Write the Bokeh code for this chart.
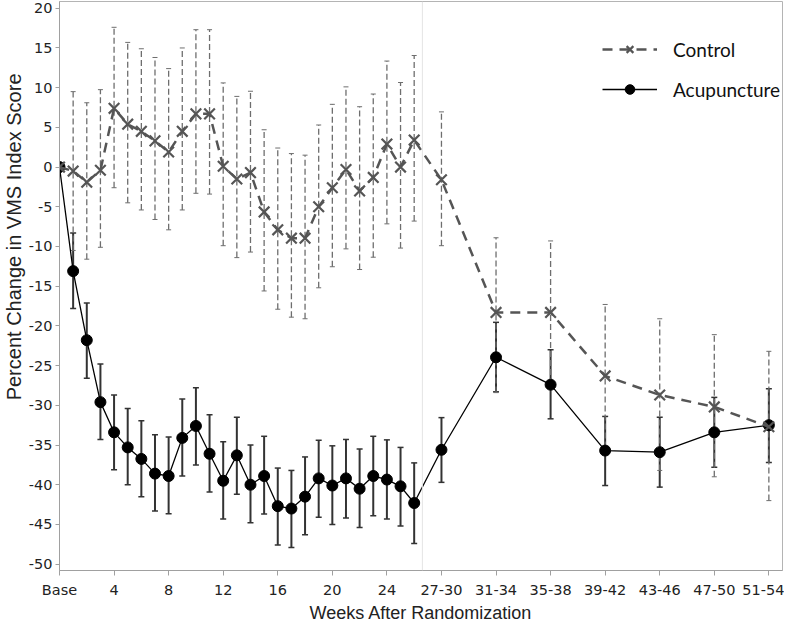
from bokeh.plotting import figure
from bokeh.models import (ColumnDataSource, Whisker, TeeHead, FixedTicker, Span,
                          Legend, LegendItem, Title)
from bokeh.embed import file_html
from bokeh.resources import INLINE

# ---------------- data ----------------
visit_x = [0, 1, 2, 3, 4, 5, 6, 7, 8, 9, 10, 11, 12, 13, 14, 15, 16, 17, 18, 19,
           20, 21, 22, 23, 24, 25, 26, 28, 32, 36, 40, 44, 48, 52]

x_ticks = [0, 4, 8, 12, 16, 20, 24, 28, 32, 36, 40, 44, 48, 52]
x_tick_labels = ["Base", "4", "8", "12", "16", "20", "24",
                 "27-30", "31-34", "35-38", "39-42", "43-46", "47-50", "51-54"]
y_ticks = [-50, -45, -40, -35, -30, -25, -20, -15, -10, -5, 0, 5, 10, 15, 20]

control_mean = [0, -0.5, -1.9, -0.4, 7.4, 5.4, 4.5, 3.3, 1.9, 4.5, 6.7, 6.7, 0.1, -1.5,
                -0.7, -5.65, -7.9, -8.95, -8.95, -5.0, -2.6, -0.3, -3.0, -1.3, 2.9, 0.0,
                3.4, -1.6, -18.3, -18.3, -26.3, -28.7, -30.2, -32.7]
control_upper = [None, 9.5, 8.1, 9.75, 17.6, 15.7, 14.9, 13.8, 12.4, 15.0, 17.3, 17.3,
                 10.6, 8.9, 9.55, 4.7, 2.4, 1.7, 1.5, 5.3, 7.9, 10.1, 7.6, 9.2, 13.35,
                 10.65, 14.05, 6.95, -8.9, -9.3, -17.3, -19.1, -21.1, -23.2]
control_lower = [None, -10.5, -11.6, -10.1, -2.6, -4.5, -5.4, -6.6, -7.9, -5.4, -3.3,
                 -3.4, -9.9, -11.4, -10.7, -15.6, -17.9, -18.9, -19.1, -15.2, -12.55,
                 -10.3, -12.9, -11.35, -7.15, -10.2, -6.8, -9.9, -28.4, -27.3, -35.3,
                 -38.2, -39.0, -42.0]

acu_mean = [0, -13.1, -21.8, -29.6, -33.4, -35.3, -36.75, -38.6, -38.9, -34.1, -32.6,
            -36.1, -39.5, -36.3, -40.0, -38.9, -42.7, -43.0, -41.5, -39.2, -40.1, -39.2,
            -40.5, -38.9, -39.35, -40.2, -42.3, -35.6, -23.95, -27.4, -35.7, -35.9,
            -33.4, -32.5]
acu_upper = [None, -8.3, -17.1, -24.8, -28.7, -30.4, -31.95, -33.7, -34.0, -29.2, -27.8,
             -31.2, -34.6, -31.5, -35.0, -33.9, -37.9, -38.2, -36.5, -34.4, -35.1, -34.3,
             -35.5, -33.9, -34.35, -35.3, -37.25, -31.55, -19.55, -23.0, -31.4, -31.5,
             -29.0, -27.9]
acu_lower = [None, -17.8, -26.6, -34.3, -38.1, -40.0, -41.5, -43.3, -43.65, -38.9, -37.5,
             -40.9, -44.3, -41.2, -44.8, -43.7, -47.6, -47.9, -46.3, -44.1, -45.0, -44.2,
             -45.4, -43.9, -44.3, -45.2, -47.4, -39.7, -28.3, -31.7, -40.1, -40.3,
             -37.8, -37.2]

# ---------------- sources ----------------
ctrl_src = ColumnDataSource(dict(x=visit_x, y=control_mean))
acu_src = ColumnDataSource(dict(x=visit_x, y=acu_mean))

def err_source(xs, up, lo):
    keep = [i for i in range(len(xs)) if up[i] is not None and lo[i] is not None]
    return ColumnDataSource(dict(x=[xs[i] for i in keep],
                                 upper=[up[i] for i in keep],
                                 lower=[lo[i] for i in keep]))

ctrl_err = err_source(visit_x, control_upper, control_lower)
acu_err = err_source(visit_x, acu_upper, acu_lower)

# ---------------- figure ----------------
p = figure(width=784, height=625, output_backend="svg", toolbar_location=None,
           x_range=(0, 53), y_range=(-50.8, 20.85),
           min_border_left=10, min_border_right=2, min_border_top=1, min_border_bottom=5)
p.grid.visible = False
p.outline_line_color = "#b4b4b4"
p.background_fill_color = "white"

TICK_FONT = "DejaVu Sans"
for ax in (p.xaxis[0], p.yaxis[0]):
    ax.axis_line_color = "#a0a0a0"
    ax.major_tick_line_color = "#a0a0a0"
    ax.minor_tick_line_color = None
    ax.major_tick_in = 0
    ax.major_label_text_font = TICK_FONT
    ax.major_label_text_font_size = "14.5px"
    ax.major_label_text_color = "#222222"

p.xaxis.ticker = FixedTicker(ticks=x_ticks)
p.xaxis.major_label_overrides = {t: l for t, l in zip(x_ticks, x_tick_labels)}
p.xaxis.major_tick_out = 5
p.xaxis.major_label_standoff = 6
p.xaxis.axis_label = "Weeks After Randomization"
p.xaxis.axis_label_text_font = "Liberation Sans"
p.xaxis.axis_label_text_font_size = "18px"
p.xaxis.axis_label_text_font_style = "normal"
p.xaxis.axis_label_text_color = "#222222"
p.xaxis.axis_label_standoff = 2

p.yaxis.ticker = FixedTicker(ticks=y_ticks)
p.yaxis.major_label_overrides = {t: str(t) for t in y_ticks}
p.yaxis.major_tick_out = 4
p.yaxis.major_label_standoff = 3

ylab = Title(text="Percent Change in VMS Index Score", align="right", offset=72,
             text_font="Liberation Sans", text_font_size="20px",
             text_font_style="normal", text_color="#222222", standoff=1)
p.add_layout(ylab, "left")

p.add_layout(Span(location=26.6, dimension="height", line_color="#e4e4e4", line_width=1))

# ---------------- acupuncture ----------------
acu_wh = Whisker(base="x", upper="upper", lower="lower", source=acu_err,
                 dimension="height", line_color="#333333", line_width=2,
                 upper_head=TeeHead(size=6, line_color="#333333", line_width=1.5),
                 lower_head=TeeHead(size=6, line_color="#333333", line_width=1.5))
p.add_layout(acu_wh)
acu_line = p.line("x", "y", source=acu_src, line_color="black", line_width=1.3)
acu_pts = p.scatter("x", "y", source=acu_src, marker="circle", size=11,
                    fill_color="black", line_color="black")

# ---------------- control ----------------
ctrl_wh = Whisker(base="x", upper="upper", lower="lower", source=ctrl_err,
                  dimension="height", line_color="#6e6e6e", line_width=1.3,
                  line_dash="6 3",
                  upper_head=TeeHead(size=5, line_color="#6e6e6e", line_width=1),
                  lower_head=TeeHead(size=5, line_color="#6e6e6e", line_width=1))
p.add_layout(ctrl_wh)
ctrl_line = p.line("x", "y", source=ctrl_src, line_color="#555555", line_width=2.5,
                   line_dash="10 7")
ctrl_pts = p.scatter("x", "y", source=ctrl_src, marker="x", size=15,
                     line_color="#555555", line_width=2.2)

legend = Legend(items=[LegendItem(label="Control", renderers=[ctrl_line, ctrl_pts]),
                       LegendItem(label="Acupuncture", renderers=[acu_line, acu_pts])],
                location=(543, 469), glyph_width=55, glyph_height=24, label_height=24,
                spacing=16, label_standoff=16, padding=4, margin=0,
                label_text_font="Lato", label_text_font_size="19px",
                label_text_color="#111111", border_line_color=None,
                background_fill_alpha=0)
p.add_layout(legend, "center")

open("out.html", "w").write(file_html(p, INLINE))
